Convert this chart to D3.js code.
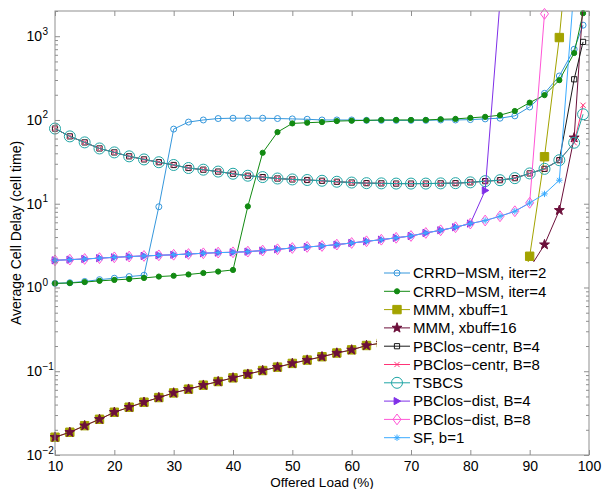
<!DOCTYPE html>
<html>
<head>
<meta charset="utf-8">
<script src="https://cdn.jsdelivr.net/npm/d3@7"></script>
<style>
  body { margin: 0; background: #fff; }
  svg { font-family: "Liberation Sans", Arial, sans-serif; }
</style>
</head>
<body>
<div id="chart"></div>
<script>
// offered load (%) for every simulated point
const loads = [10, 12.5, 15, 17.5, 20, 22.5, 25, 27.5, 30, 32.5, 35, 37.5, 40, 42.5, 45, 47.5, 50, 52.5,
  55, 57.5, 60, 62.5, 65, 67.5, 70, 72.5, 75, 77.5, 80, 82.5, 85, 87.5, 90, 92.5, 95, 97.5, 99];

const crrd2 = [1.12, 1.14, 1.18, 1.24, 1.29, 1.35, 1.40, 9.2, 77.8, 94.4, 100, 104, 105, 105, 105, 104, 103, 102,
  100, 100, 100, 99, 99, 99, 99, 99, 100, 100, 101, 103, 105, 112, 143, 208, 335, 699, 1355];
const crrd4 = [1.12, 1.13, 1.16, 1.20, 1.23, 1.26, 1.30, 1.35, 1.38, 1.43, 1.49, 1.55, 1.62, 9.3, 40.6, 71.6, 91, 92.7,
  94.3, 97, 98, 99, 100, 100, 100, 100, 102, 103, 106, 109, 114, 128, 161, 198, 299, 630, 1884];
const mmm1 = [0.0163, 0.0187, 0.0224, 0.0267, 0.0324, 0.0372, 0.0427, 0.0485, 0.0551, 0.0611, 0.0682, 0.0753,
  0.0834, 0.0923, 0.102, 0.112, 0.124, 0.136, 0.149, 0.165, 0.180, 0.203, 0.217, 0.238, 0.26, 0.285, 0.31,
  0.34, 0.375, 0.415, 0.46, 0.52, 2.36, 36.4, 964, 70000, null];
const mmm16 = [0.0163, 0.0187, 0.0224, 0.0267, 0.0324, 0.0372, 0.0427, 0.0485, 0.0551, 0.0611, 0.0682, 0.0753,
  0.0834, 0.0923, 0.102, 0.112, 0.124, 0.136, 0.149, 0.165, 0.180, 0.203, 0.217, 0.238, 0.26, 0.285, 0.31,
  0.34, 0.375, 0.415, 0.46, 0.52, 1.7, 3.25, 8.36, 61.4, 2500];
const centr4 = [79, 63.7, 54, 45.7, 41, 36.8, 33.8, 31.3, 29, 26.7, 25.5, 24.2, 22.8, 21.6, 20.8, 20.0, 19.5, 19.2,
  18.8, 18.3, 17.9, 17.6, 17.5, 17.4, 17.4, 17.4, 17.5, 17.6, 18.0, 18.6, 19.1, 20.2, 23.0, 26.1, 33.1, 306, 855];
const centr8 = [79, 63.7, 54, 45.7, 41, 36.8, 33.8, 31.3, 29, 26.7, 25.5, 24.2, 22.8, 21.6, 20.8, 20.0, 19.5, 19.2,
  18.8, 18.3, 17.9, 17.6, 17.5, 17.4, 17.4, 17.4, 17.5, 17.6, 18.0, 18.6, 19.1, 20.2, 23.0, 26.1, 33.1, 53.5, 150];
const tsbcs = [79, 63.7, 54, 45.7, 41, 36.8, 33.8, 31.3, 29, 26.7, 25.5, 24.2, 22.8, 21.6, 20.8, 20.0, 19.5, 19.2,
  18.8, 18.3, 17.9, 17.6, 17.5, 17.4, 17.4, 17.4, 17.5, 17.6, 18.0, 18.6, 19.1, 20.2, 23.0, 26.1, 33.1, 53.5, 117];
const dist4 = [2.11, 2.15, 2.19, 2.24, 2.29, 2.34, 2.38, 2.42, 2.46, 2.51, 2.56, 2.61, 2.63, 2.68, 2.76, 2.86, 2.96,
  3.05, 3.13, 3.25, 3.40, 3.56, 3.72, 3.92, 4.12, 4.48, 4.82, 5.24, 5.80, 14.4, 2600];
const dist8 = [2.11, 2.15, 2.19, 2.24, 2.29, 2.34, 2.38, 2.42, 2.46, 2.51, 2.56, 2.61, 2.63, 2.68, 2.76, 2.86, 2.96,
  3.05, 3.13, 3.25, 3.40, 3.56, 3.72, 3.92, 4.12, 4.48, 4.82, 5.24, 5.80, 6.3, 7.08, 8.13, 10.25, 1850];
const sf = [2.11, 2.15, 2.19, 2.24, 2.29, 2.34, 2.38, 2.42, 2.46, 2.51, 2.56, 2.61, 2.63, 2.68, 2.76, 2.86, 2.96,
  3.05, 3.13, 3.25, 3.40, 3.56, 3.72, 3.92, 4.12, 4.48, 4.82, 5.24, 5.80, 6.3, 7.08, 8.13, 10.2, 13.1, 19.1, 4000];

const xTicks = [10, 20, 30, 40, 50, 60, 70, 80, 90, 100];
const yTicks = [0.01, 0.1, 1, 10, 100, 1000];

const width = 602, height = 489;
const plot = {left: 55, right: 589, top: 11, bottom: 455};

// marker shapes
const shapes = {
  circle: r => `M${-r},0A${r},${r} 0 1,0 ${r},0A${r},${r} 0 1,0 ${-r},0Z`,
  square: s => `M${-s},${-s}H${s}V${s}H${-s}Z`,
  cross: s => `M${-s},${-s}L${s},${s}M${-s},${s}L${s},${-s}`,
  triangle: s => `M${s},0L${-s * 0.8},${-s}L${-s * 0.8},${s}Z`,
  diamond: s => `M0,${-s * 1.35}L${s},0L0,${s * 1.35}L${-s},0Z`,
  asterisk: s => {
    const d = s * 0.72;
    return `M${-s},0H${s}M0,${-s}V${s}M${-d},${-d}L${d},${d}M${-d},${d}L${d},${-d}`;
  },
  star: r => {
    const pts = [];
    for (let i = 0; i < 10; i++) {
      const rr = i % 2 ? r * 0.4 : r;
      const a = -Math.PI / 2 + i * Math.PI / 5;
      pts.push([rr * Math.cos(a), rr * Math.sin(a)]);
    }
    return 'M' + pts.map(p => p[0].toFixed(2) + ',' + p[1].toFixed(2)).join('L') + 'Z';
  }
};

const series = [
  {name: 'CRRD\u2212MSM, iter=2', values: crrd2, color: '#3597dc', shape: 'circle', size: 3, filled: false},
  {name: 'CRRD\u2212MSM, iter=4', values: crrd4, color: '#128a12', shape: 'circle', size: 2.6, filled: true},
  {name: 'MMM, xbuff=1', values: mmm1, color: '#a3a300', shape: 'square', size: 4.2, filled: true},
  {name: 'MMM, xbuff=16', values: mmm16, color: '#6c0f3a', shape: 'star', size: 5.2, filled: true},
  {name: 'PBClos\u2212centr, B=4', values: centr4, color: '#1a1a1a', shape: 'square', size: 2.6, filled: false},
  {name: 'PBClos\u2212centr, B=8', values: centr8, color: '#ff3377', shape: 'cross', size: 2.6, filled: false},
  {name: 'TSBCS', values: tsbcs, color: '#1fa5a5', shape: 'circle', size: 5.5, filled: false},
  {name: 'PBClos\u2212dist, B=4', values: dist4, color: '#7f2fe8', shape: 'triangle', size: 3.6, filled: true},
  {name: 'PBClos\u2212dist, B=8', values: dist8, color: '#ff55d6', shape: 'diamond', size: 4, filled: false},
  {name: 'SF, b=1', values: sf, color: '#3aabff', shape: 'asterisk', size: 3.2, filled: false}
];

const x = d3.scaleLinear().domain([10, 100]).range([plot.left, plot.right]);
const y = d3.scaleLog().domain([0.01, 2000]).range([plot.bottom, plot.top]);

const svg = d3.select('#chart').append('svg')
  .attr('width', width)
  .attr('height', height);

svg.append('defs').append('clipPath')
  .attr('id', 'plotClip')
  .append('rect')
  .attr('x', plot.left)
  .attr('y', plot.top)
  .attr('width', plot.right - plot.left)
  .attr('height', plot.bottom - plot.top);

const line = d3.line()
  .defined(d => d.v != null)
  .x(d => x(d.load))
  .y(d => y(d.v));

function drawMarker (sel, s) {
  sel.attr('d', shapes[s.shape](s.size))
    .attr('fill', s.filled ? s.color : 'none')
    .attr('stroke', s.color)
    .attr('stroke-width', 1);
}

series.forEach(s => {
  const pts = loads.map((l, i) => ({load: l, v: s.values[i] == null ? null : s.values[i]}));
  const g = svg.append('g');
  g.append('path')
    .datum(pts)
    .attr('clip-path', 'url(#plotClip)')
    .attr('fill', 'none')
    .attr('stroke', s.color)
    .attr('stroke-width', 1)
    .attr('d', line);
  g.selectAll('path.mk')
    .data(pts.filter(d => d.v != null && d.v >= 0.01 && d.v <= 2000))
    .enter()
    .append('path')
    .attr('class', 'mk')
    .attr('transform', d => `translate(${x(d.load)},${y(d.v)})`)
    .call(drawMarker, s);
});

// legend, white box over the lines
const lg = svg.append('g');
lg.append('rect')
  .attr('x', 377).attr('y', 262)
  .attr('width', 207).attr('height', 188)
  .attr('fill', '#fff');
series.forEach((s, i) => {
  const cy = 273 + i * 18.3;
  lg.append('line')
    .attr('x1', 384).attr('x2', 410)
    .attr('y1', cy).attr('y2', cy)
    .attr('stroke', s.color).attr('stroke-width', 1);
  lg.append('path')
    .attr('transform', `translate(397,${cy})`)
    .call(drawMarker, s);
  lg.append('text')
    .attr('x', 413).attr('y', cy + 5.3)
    .attr('font-size', 15)
    .attr('fill', '#000')
    .text(s.name);
});

// axes
const axisColor = '#8f8f8f';
const minors = [];
yTicks.forEach(m => {
  for (let k = 2; k <= 9; k++) if (m * k <= 2000) minors.push(m * k);
});

function styleAxis (g) {
  g.select('.domain').remove();
  g.selectAll('.tick line').attr('stroke', axisColor);
}

svg.append('g')
  .attr('transform', `translate(0,${plot.bottom})`)
  .call(d3.axisBottom(x).tickValues(xTicks).tickSize(-5).tickPadding(6))
  .call(styleAxis)
  .call(g => g.selectAll('text').attr('font-size', 14).attr('fill', '#000')
    .attr('font-family', '"Liberation Sans", Arial, sans-serif'));
svg.append('g')
  .attr('transform', `translate(0,${plot.top})`)
  .call(d3.axisTop(x).tickValues(xTicks).tickSize(-5).tickFormat(''))
  .call(styleAxis);

[[d3.axisLeft, plot.left], [d3.axisRight, plot.right]].forEach(([axis, pos]) => {
  svg.append('g')
    .attr('transform', `translate(${pos},0)`)
    .call(axis(y).tickValues(yTicks).tickSize(-5).tickFormat(''))
    .call(styleAxis);
  svg.append('g')
    .attr('transform', `translate(${pos},0)`)
    .call(axis(y).tickValues(minors).tickSize(-3).tickFormat(''))
    .call(styleAxis);
});

svg.append('rect')
  .attr('x', plot.left).attr('y', plot.top)
  .attr('width', plot.right - plot.left)
  .attr('height', plot.bottom - plot.top)
  .attr('fill', 'none')
  .attr('stroke', axisColor)
  .attr('stroke-width', 1);

// y tick labels as 10 with a superscript exponent
yTicks.forEach(m => {
  const e = Math.round(Math.log10(m));
  const t = svg.append('g').attr('transform', `translate(0,${y(m)})`);
  t.append('text')
    .attr('x', 42).attr('y', 5)
    .attr('text-anchor', 'end')
    .attr('font-size', 14)
    .text('10');
  t.append('text')
    .attr('x', 42.5).attr('y', -1.5)
    .attr('font-size', 10)
    .text(String(e).replace('-', '\u2212'));
});

svg.append('text')
  .attr('x', (plot.left + plot.right) / 2)
  .attr('y', 487)
  .attr('text-anchor', 'middle')
  .attr('font-size', 13.5)
  .text('Offered Load (%)');

svg.append('text')
  .attr('transform', `translate(21,${(plot.top + plot.bottom) / 2}) rotate(-90)`)
  .attr('text-anchor', 'middle')
  .attr('font-size', 14)
  .text('Average Cell Delay (cell time)');
</script>
</body>
</html>
